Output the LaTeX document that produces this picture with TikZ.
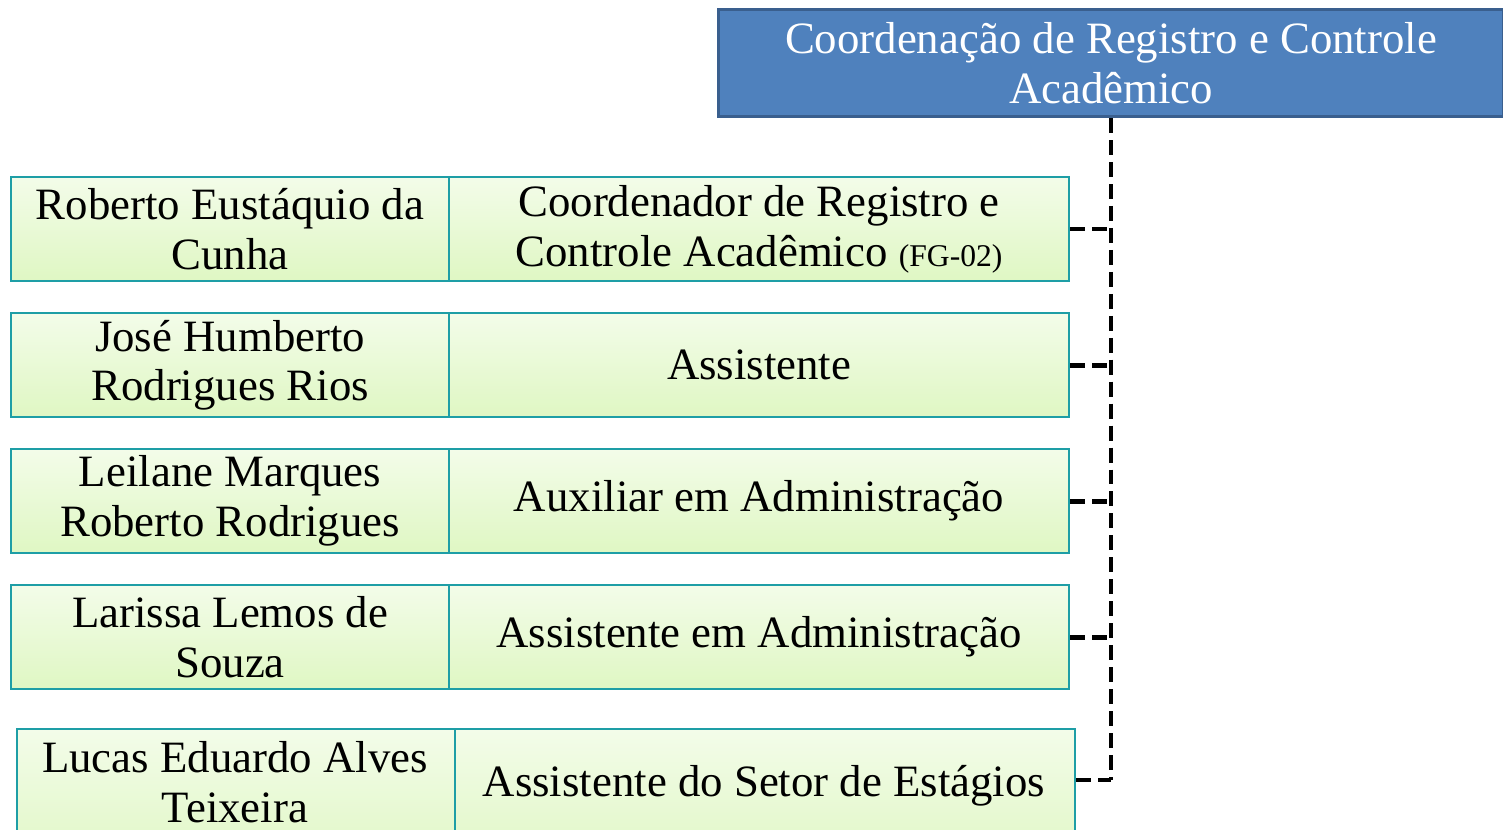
\documentclass[tikz,border=0pt]{standalone}
\usepackage{fontspec}
\setmainfont{Liberation Serif}
\definecolor{topfill}{HTML}{4F81BD}
\definecolor{topedge}{HTML}{3A5F8E}
\definecolor{tealedge}{HTML}{1E9EA6}
\definecolor{gtop}{HTML}{F3FCE9}
\definecolor{gbot}{HTML}{DFF7C3}
\tikzset{
  px/.style={x=0.02cm,y=-0.02cm},
  headbox/.style={draw=topedge, line width=1.8pt, fill=topfill, text=white, align=center,
    minimum width=15.7cm, minimum height=2.14cm, inner sep=0pt, anchor=north west,
    font=\fontsize{25.5}{28.3}\selectfont},
  namebox/.style={draw=tealedge, line width=1.3pt, top color=gtop, bottom color=gbot, align=center,
    minimum width=8.76cm, minimum height=2.08cm, inner sep=0pt, anchor=north west,
    font=\fontsize{25.5}{28.3}\selectfont},
  rolebox/.style={namebox, minimum width=12.4cm},
  conn/.style={draw=black, line width=2.7pt, dash pattern=on 8.5pt off 4pt}
}
\begin{document}
\begin{tikzpicture}[px]
\useasboundingbox (0,0) rectangle (1503,830);
\fill[white] (0,0) rectangle (1503,830);
\node[headbox] (top) at (717,8) {Coordenação de Registro e Controle\\Acadêmico};

\node[namebox] (n1) at (10,176) {Roberto Eustáquio da\\Cunha};
\node[rolebox] (r1) at (448,176) {Coordenador de Registro e\\Controle Acadêmico {\fontsize{18}{18}\selectfont(FG-02)}};

\node[namebox] (n2) at (10,312) {José Humberto\\Rodrigues Rios};
\node[rolebox] (r2) at (448,312) {Assistente};

\node[namebox] (n3) at (10,448) {Leilane Marques\\Roberto Rodrigues};
\node[rolebox] (r3) at (448,448) {Auxiliar em Administração};

\node[namebox] (n4) at (10,584) {Larissa Lemos de\\Souza};
\node[rolebox] (r4) at (448,584) {Assistente em Administração};

\node[namebox, minimum height=2.9cm] (n5) at (16,728) {};
\node[anchor=north, align=center, font=\fontsize{25.5}{28.3}\selectfont, inner sep=0pt] (n5t) at (235,741) {Lucas Eduardo Alves\\Teixeira};
\node[rolebox, minimum height=2.9cm] (r5) at (454,728) {};
\node[font=\fontsize{25.5}{28.3}\selectfont, inner sep=0pt] (r5t) at (764,786) {Assistente do Setor de Estágios};

\coordinate (v5) at (top.south |- 0,780);
\draw[conn] (top.south) -- (v5);
\draw[conn] (r1.east) -- (r1.east -| top.south);
\draw[conn] (r2.east) -- (r2.east -| top.south);
\draw[conn] (r3.east) -- (r3.east -| top.south);
\draw[conn] (r4.east) -- (r4.east -| top.south);
\draw[conn] (r5.east |- v5) -- (v5);
\end{tikzpicture}
\end{document}
